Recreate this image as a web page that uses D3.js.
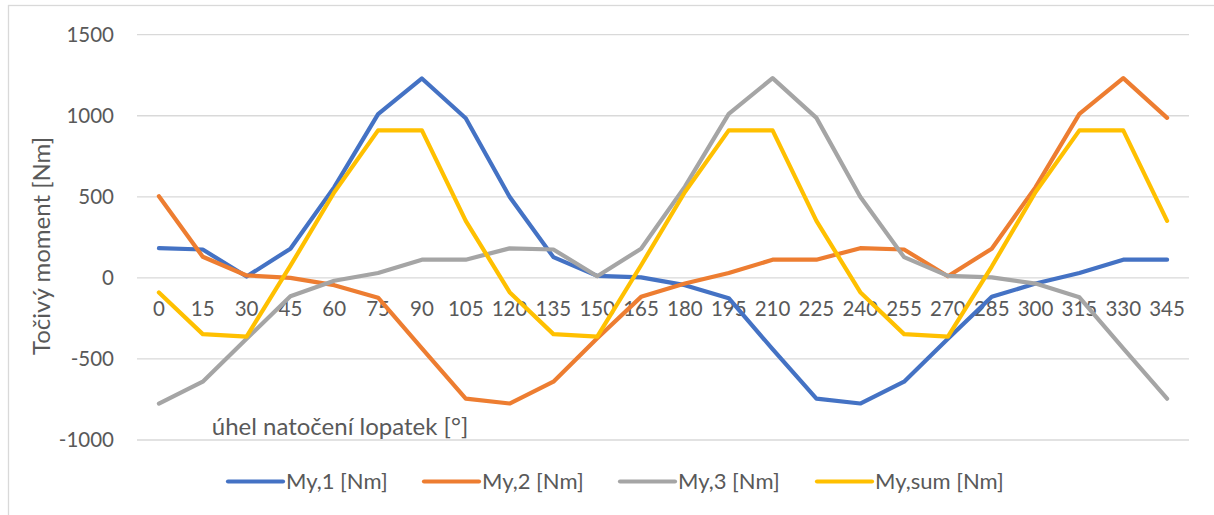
<!DOCTYPE html>
<html>
<head>
<meta charset="utf-8">
<script src="https://cdn.jsdelivr.net/npm/d3@7"></script>
<style>
  html, body { margin: 0; padding: 0; background: #fff; }
  svg { display: block; }
  text { font-family: Lato, "Open Sans", sans-serif; fill: #595959; }
</style>
</head>
<body>
<svg id="chart" width="1214" height="515"></svg>
<script>
const categories = ["0","15","30","45","60","75","90","105","120","135","150","165","180","195","210","225","240","255","270","285","300","315","330","345"];
const my1 = [183, 175, 8, 180, 560, 1010, 1230, 985, 500, 128, 12, 3, -45, -125, -440, -745, -775, -640, -375, -117, -35, 30, 112, 112];
const my2 = [504, 130, 15, 0, -45, -122, -435, -745, -775, -640, -372, -117, -35, 30, 112, 112, 183, 175, 10, 180, 560, 1012, 1232, 987];
const my3 = [-775, -640, -376, -113, -18, 30, 112, 112, 182, 175, 10, 180, 563, 1012, 1232, 987, 500, 128, 12, 3, -35, -120, -435, -745];
const mySum = [-90, -347, -362, 75, 528, 910, 910, 352, -88, -347, -362, 78, 530, 910, 910, 352, -88, -347, -362, 70, 530, 910, 910, 352];
const seriesNames = ["My,1 [Nm]", "My,2 [Nm]", "My,3 [Nm]", "My,sum [Nm]"];
const seriesColors = ["#4472C4", "#ED7D31", "#A5A5A5", "#FFC000"];
const yTicks = [-1000, -500, 0, 500, 1000, 1500];
const yTitle = "Točivý moment [Nm]";
const xTitle = "úhel natočení lopatek [°]";

const svg = d3.select("#chart");

// chart border
svg.append("rect").attr("x", 8.5).attr("y", 5.5).attr("width", 1300).attr("height", 600)
  .attr("fill", "none").attr("stroke", "#D9D9D9").attr("stroke-width", 1.3);

const x = d3.scaleBand().domain(categories).range([137, 1189]).padding(0);
const y = d3.scaleLinear().domain([-1000, 1500]).range([440, 34.7]);
const cx = c => x(c) + x.bandwidth() / 2;

// gridlines
svg.append("g").selectAll("line").data(yTicks).join("line")
  .attr("x1", 137).attr("x2", 1189)
  .attr("y1", d => y(d)).attr("y2", d => y(d))
  .attr("stroke", "#D9D9D9").attr("stroke-width", 1.3);

// y tick labels
svg.append("g").selectAll("text").data(yTicks).join("text")
  .attr("x", 114).attr("y", d => y(d)).attr("dy", "0.35em")
  .attr("text-anchor", "end").style("font-size", "20.5px")
  .text(d => d);

// x category labels (next to zero axis)
svg.append("g").selectAll("text").data(categories).join("text")
  .attr("x", d => cx(d)).attr("y", y(0) + 38.5)
  .attr("text-anchor", "middle").style("font-size", "20.5px")
  .text(d => d);

// titles
svg.append("text").attr("transform", "translate(50,246) rotate(-90)")
  .attr("text-anchor", "middle").style("font-size", "24px").text(yTitle);
svg.append("text").attr("x", 340).attr("y", 435)
  .attr("text-anchor", "middle").style("font-size", "24px").text(xTitle);

// lines
const allSeries = [my1, my2, my3, mySum];
const line = d3.line().x((d, i) => cx(categories[i])).y(d => y(d));
svg.append("g").selectAll("path").data(allSeries).join("path")
  .attr("d", d => line(d))
  .attr("fill", "none")
  .attr("stroke", (d, i) => seriesColors[i])
  .attr("stroke-width", 4.2)
  .attr("stroke-linejoin", "round")
  .attr("stroke-linecap", "round");

// legend
const legendX = [228, 424, 620, 817];
const lg = svg.append("g").selectAll("g").data(seriesNames).join("g")
  .attr("transform", (d, i) => `translate(${legendX[i]},481.5)`);
lg.append("line").attr("x1", 0).attr("x2", 55).attr("y1", 0).attr("y2", 0)
  .attr("stroke", (d, i) => seriesColors[i]).attr("stroke-width", 4.2).attr("stroke-linecap", "round");
lg.append("text").attr("x", 58).attr("y", 0).attr("dy", "0.35em")
  .style("font-size", "22px").text(d => d);
</script>
</body>
</html>
